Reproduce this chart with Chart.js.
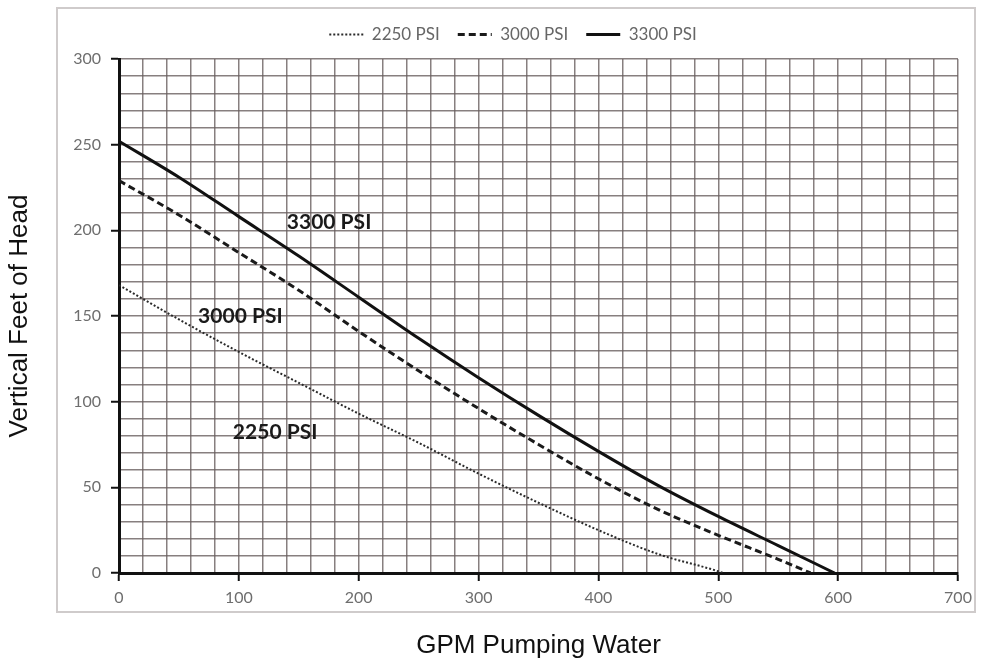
<!DOCTYPE html>
<html>
<head>
<meta charset="utf-8">
<script src="https://cdn.jsdelivr.net/npm/chart.js@4.4.1/dist/chart.umd.min.js"></script>
<style>
  html, body { margin: 0; padding: 0; background: #fff; }
  #wrap { width: 990px; height: 663px; }
</style>
</head>
<body>
<div id="wrap"><canvas id="pumpChart" width="990" height="663"></canvas></div>
<script>
// GPM values and head (ft)
const gpm2250 = [0, 50, 100, 150, 200, 250, 300, 350, 400, 450, 500, 504];
const head2250 = [168, 148, 129, 111, 93, 76, 58, 41, 25, 11, 1, 0];

const gpm3000 = [0, 50, 100, 150, 200, 250, 300, 350, 400, 450, 500, 550, 577];
const head3000 = [229, 209, 187, 165, 141, 118, 96, 75, 55, 37, 22, 8, 0];

const gpm3300 = [0, 50, 100, 150, 200, 250, 300, 350, 400, 450, 500, 550, 597];
const head3300 = [252, 231, 208, 185, 161, 137, 114, 92, 71, 51, 33, 16, 0];

const seriesNames = ['2250 PSI', '3000 PSI', '3300 PSI'];

// in-plot labels: [gpm at left edge, head]
const noteText = ['3300 PSI', '3000 PSI', '2250 PSI'];
const noteGpm = [140, 66, 95];
const noteHead = [205, 150, 82];

const xMax = 700, xStep = 20, xLabelEvery = 100;
const yMax = 300, yStep = 10, yLabelEvery = 50;

function toPoints(xs, ys) {
    return xs.map((x, i) => ({ x: x, y: ys[i] }));
}

const frame = {
    id: 'frame',
    beforeDraw(chart) {
        const ctx = chart.ctx;
        ctx.save();
        ctx.fillStyle = '#fff';
        ctx.fillRect(0, 0, chart.width, chart.height);
        ctx.strokeStyle = '#cfcbcb';
        ctx.lineWidth = 2;
        ctx.strokeRect(57, 8, 918, 604);
        ctx.restore();
    },
    afterLayout(chart) {
        // legend sits a bit right of centre and higher in the original
        const lg = chart.legend;
        if (!lg) return;
        lg.left += 34; lg.right += 34;
        lg.top -= 6; lg.bottom -= 6;
    }
};

const notes = {
    id: 'notes',
    afterDatasetsDraw(chart) {
        const ctx = chart.ctx;
        const xs = chart.scales.x, ys = chart.scales.y;
        ctx.save();
        ctx.font = 'bold 21px Lato, "Open Sans", sans-serif';
        ctx.fillStyle = '#1a1a1a';
        ctx.textBaseline = 'middle';
        ctx.textAlign = 'left';
        noteText.forEach((t, i) => {
            ctx.fillText(t, xs.getPixelForValue(noteGpm[i]), ys.getPixelForValue(noteHead[i]));
        });
        ctx.restore();
    }
};

const tickFont = { family: 'Lato, "Open Sans", sans-serif', size: 16 };
const gridColor = 'rgba(105, 95, 95, 0.8)';

new Chart(document.getElementById('pumpChart'), {
    type: 'line',
    data: {
        datasets: [
            {
                label: seriesNames[0],
                data: toPoints(gpm2250, head2250),
                borderColor: '#2a2a2a',
                borderWidth: 2,
                borderDash: [2, 2],
                pointRadius: 0,
                cubicInterpolationMode: 'monotone'
            },
            {
                label: seriesNames[1],
                data: toPoints(gpm3000, head3000),
                borderColor: '#1a1a1a',
                borderWidth: 3,
                borderDash: [7, 4],
                pointRadius: 0,
                cubicInterpolationMode: 'monotone'
            },
            {
                label: seriesNames[2],
                data: toPoints(gpm3300, head3300),
                borderColor: '#111',
                borderWidth: 3,
                pointRadius: 0,
                cubicInterpolationMode: 'monotone'
            }
        ]
    },
    options: {
        responsive: false,
        animation: false,
        layout: { padding: { left: 0, right: 32, top: 14, bottom: 0 } },
        plugins: {
            legend: {
                position: 'top',
                labels: {
                    usePointStyle: true,
                    pointStyle: 'line',
                    pointStyleWidth: 34,
                    boxHeight: 2,
                    boxWidth: 34,
                    padding: 18,
                    color: '#666',
                    font: { family: 'Lato, "Open Sans", sans-serif', size: 17 },
                    generateLabels(chart) {
                        const items = Chart.defaults.plugins.legend.labels.generateLabels(chart);
                        items.forEach(it => {
                            const ds = chart.data.datasets[it.datasetIndex];
                            it.lineDash = ds.borderDash || [];
                            it.lineWidth = ds.borderWidth;
                            it.strokeStyle = ds.borderColor;
                        });
                        return items;
                    }
                }
            },
            tooltip: { enabled: false }
        },
        scales: {
            x: {
                type: 'linear',
                min: 0,
                max: xMax,
                afterFit: s => { s.height = 90; },
                border: { color: '#111', width: 3 },
                grid: {
                    color: gridColor,
                    lineWidth: 1.5,
                    tickLength: 8,
                    tickColor: c => (c.tick && c.tick.value % xLabelEvery === 0) ? '#111' : 'transparent',
                    tickWidth: 2
                },
                ticks: {
                    stepSize: xStep,
                    autoSkip: false,
                    maxRotation: 0,
                    padding: 7,
                    color: '#6e6e6e',
                    font: tickFont,
                    callback: v => (v % xLabelEvery === 0) ? v : ''
                },
                title: {
                    display: true,
                    text: 'GPM Pumping Water',
                    color: '#111',
                    font: { family: '"Liberation Sans", Arial, sans-serif', size: 26 },
                    padding: { top: 0, bottom: 2 }
                }
            },
            y: {
                min: 0,
                max: yMax,
                afterFit: s => { s.width = 119; },
                border: { color: '#111', width: 3 },
                grid: {
                    color: gridColor,
                    lineWidth: 1.5,
                    tickLength: 8,
                    tickColor: c => (c.tick && c.tick.value % yLabelEvery === 0) ? '#111' : 'transparent',
                    tickWidth: 2
                },
                ticks: {
                    stepSize: yStep,
                    autoSkip: false,
                    padding: 10,
                    color: '#6e6e6e',
                    font: tickFont,
                    callback: v => (v % yLabelEvery === 0) ? v : ''
                },
                title: {
                    display: true,
                    text: 'Vertical Feet of Head',
                    color: '#111',
                    font: { family: '"Liberation Sans", Arial, sans-serif', size: 26 },
                    padding: { top: 4, bottom: 0 }
                }
            }
        }
    },
    plugins: [frame, notes]
});
</script>
</body>
</html>
